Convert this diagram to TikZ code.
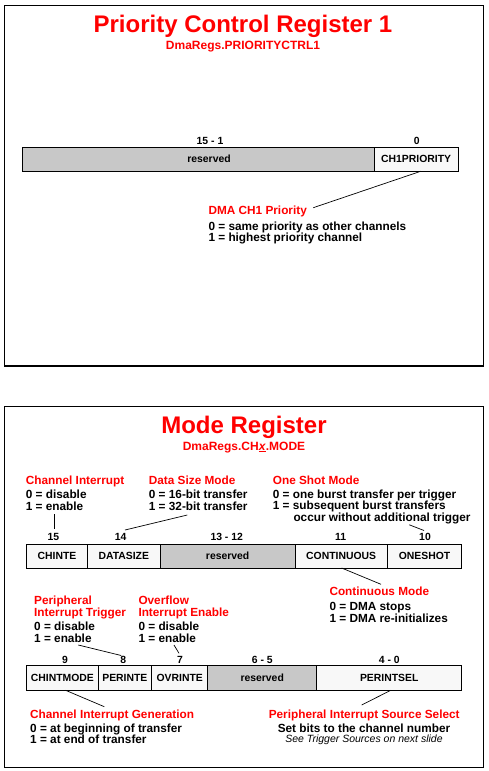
\documentclass[tikz,border=0pt]{standalone}
\usepackage{fontspec}
\setmainfont{Liberation Sans}
\definecolor{resgray}{RGB}{200,200,200}
\definecolor{fieldw}{RGB}{248,248,248}
\definecolor{hred}{RGB}{255,0,0}
\begin{document}
\begin{tikzpicture}[x=1pt,y=-1pt,
 frame/.style={line width=1.6pt},
 title/.style={anchor=base, font=\bfseries\fontsize{24}{28}\selectfont, text=hred, inner sep=0},
 subtitle/.style={anchor=base, font=\bfseries\fontsize{12}{14}\selectfont, text=hred, inner sep=0},
 field/.style={draw, line width=0.7pt, fill=fieldw, inner sep=0, outer sep=0, font=\bfseries\fontsize{10.4}{12}\selectfont, text height=0.72em, text depth=0pt},
 resfield/.style={field, fill=resgray},
 bitnum/.style={anchor=base, inner sep=0, font=\bfseries\fontsize{10.4}{12}\selectfont},
 head/.style={anchor=base west, inner sep=0, text=hred, font=\bfseries\fontsize{11.8}{13}\selectfont, text height=0.68em, text depth=0.12em},
 body/.style={anchor=base west, inner sep=0, font=\bfseries\fontsize{11.8}{13}\selectfont, text height=0.68em, text depth=0.12em},
 chead/.style={head, anchor=base},
 cbody/.style={body, anchor=base},
 note/.style={anchor=base, inner sep=0, font=\itshape\fontsize{10.5}{12}\selectfont, text height=0.68em, text depth=0.12em},
 conn/.style={line width=0.7pt}]
\useasboundingbox (0,0) rectangle (489,771);
% ---------- frame 1 ----------
\draw[frame] (4.5,5.5) rectangle (483.3,366);
\node[title] (t1) at (243,32.5) {Priority Control Register 1};
\node[subtitle] (s1) at (243,49.3) {DmaRegs.PRIORITYCTRL1};
\node[bitnum] (b151) at (210,144.4) {15 - 1};
\node[bitnum] (b0) at (416.7,144.4) {0};
\node[resfield, minimum width=351.6pt, minimum height=24pt] (res1) at (198.5,159.3) {\hspace*{21pt}reserved};
\node[field, minimum width=83.7pt, minimum height=24pt] (ch1) at (416.15,159.3) {CH1PRIORITY};
\node[head] (h1) at (208.3,214.5) {DMA CH1 Priority};
\node[body] (h1a) at (208.3,230) {0 = same priority as other channels};
\node[body] (h1b) at (208.3,241) {1 = highest priority channel};
\coordinate (c1) at (313.3,207.7);
\draw[conn] ([xshift=4.5pt]ch1.south) -- (c1);
% ---------- frame 2 ----------
\draw[frame] (4.5,406.3) rectangle (483.3,767.3);
\node[title] (t2) at (244,433.4) {Mode Register};
\node[subtitle] (s2) at (244,450) {DmaRegs.CH\underline{\textit{x}}.MODE};
% top annotations
\node[head] (ci) at (25.7,484) {Channel Interrupt};
\node[body] (cia) at (25.7,498.3) {0 = disable};
\node[body] (cib) at (25.7,510) {1 = enable};
\node[head] (ds) at (148.7,484) {Data Size Mode};
\node[body] (dsa) at (148.7,498.3) {0 = 16-bit transfer};
\node[body] (dsb) at (148.7,510) {1 = 32-bit transfer};
\node[head] (os) at (272.7,484) {One Shot Mode};
\node[body] (osa) at (272.7,498.3) {0 = one burst transfer per trigger};
\node[body] (osb) at (272.7,509.6) {1 = subsequent burst transfers};
\node[body] (osc) at (293.3,521.2) {occur without additional trigger};
% bit numbers row 2
\node[bitnum] (b15) at (53.3,540.2) {15};
\node[bitnum] (b14) at (120.7,540.2) {14};
\node[bitnum] (b1312) at (226.7,540.2) {13 - 12};
\node[bitnum] (b11) at (340.7,540.2) {11};
\node[bitnum] (b10) at (425,540.2) {10};
% register 2
\node[field, minimum width=60.6pt, minimum height=23.3pt] (chinte) at (57,556.35) {CHINTE};
\node[field, minimum width=73pt, minimum height=23.3pt] (datasize) at (123.8,556.35) {DATASIZE};
\node[resfield, minimum width=134.7pt, minimum height=23.3pt] (res2) at (227.65,556.35) {reserved};
\node[field, minimum width=92.3pt, minimum height=23.3pt] (cont) at (341.15,556.35) {CONTINUOUS};
\node[field, minimum width=74.4pt, minimum height=23.3pt] (oneshot) at (424.5,556.35) {ONESHOT};
\coordinate (l1a) at (54,514); \coordinate (l1b) at (54,529.3);
\coordinate (l2a) at (187.3,515); \coordinate (l2b) at (125,530);
\coordinate (l3a) at (409.3,524.8); \coordinate (l3b) at (424,530.5);
\draw[conn] (l1a) -- (l1b);
\draw[conn] (l2a) -- (l2b);
\draw[conn] (l3a) -- (l3b);
% continuous annotation
\node[head] (cm) at (329.3,595.7) {Continuous Mode};
\node[body] (cma) at (329.3,610.6) {0 = DMA stops};
\node[body] (cmb) at (329.3,622.2) {1 = DMA re-initializes};
\coordinate (l4) at (381,584.3);
\draw[conn] ([xshift=0.5pt]cont.south) -- (l4);
% peripheral / overflow annotations
\node[head] (pi1) at (34,604.3) {Peripheral};
\node[head] (pi2) at (34,616.3) {Interrupt Trigger};
\node[body] (pia) at (34,630.7) {0 = disable};
\node[body] (pib) at (34,642.3) {1 = enable};
\node[head] (ov1) at (138.3,604.3) {Overflow};
\node[head] (ov2) at (138.3,616.3) {Interrupt Enable};
\node[body] (ova) at (138.3,630.7) {0 = disable};
\node[body] (ovb) at (138.3,642.3) {1 = enable};
\coordinate (l5a) at (78.3,645); \coordinate (l5b) at (121.2,655.5);
\coordinate (l6a) at (174,645); \coordinate (l6b) at (179,653.3);
\draw[conn] (l5a) -- (l5b);
\draw[conn] (l6a) -- (l6b);
% bit numbers row 3
\node[bitnum] (b9) at (65,663.7) {9};
\node[bitnum] (b8) at (123.3,663.7) {8};
\node[bitnum] (b7) at (180,663.7) {7};
\node[bitnum] (b65) at (262.3,663.7) {6 - 5};
\node[bitnum] (b40) at (389.3,663.7) {4 - 0};
% register 3
\node[field, minimum width=71.3pt, minimum height=25pt] (chintmode) at (62.35,677.8) {CHINTMODE};
\node[field, minimum width=53.7pt, minimum height=25pt] (perinte) at (124.85,677.8) {PERINTE};
\node[field, minimum width=56pt, minimum height=25pt] (ovrinte) at (179.7,677.8) {OVRINTE};
\node[resfield, minimum width=109pt, minimum height=25pt] (res3) at (262.2,677.8) {reserved};
\node[field, minimum width=145pt, minimum height=25pt] (perintsel) at (389.2,677.8) {PERINTSEL};
% bottom annotations
\node[head] (cig) at (30,718.3) {Channel Interrupt Generation};
\node[body] (ciga) at (30,732.6) {0 = at beginning of transfer};
\node[body] (cigb) at (30,743.8) {1 = at end of transfer};
\node[chead] (piss) at (364.2,718.3) {Peripheral Interrupt Source Select};
\node[cbody] (pissa) at (364,732.7) {Set bits to the channel number};
\node[note] (pissb) at (364,742.3) {See Trigger Sources on next slide};
\coordinate (l7) at (104.3,706.7);
\coordinate (l8) at (361.7,705);
\draw[conn] ([xshift=3.3pt]chintmode.south) -- (l7);
\draw[conn] ([xshift=1.5pt]perintsel.south) -- (l8);
\end{tikzpicture}
\end{document}
